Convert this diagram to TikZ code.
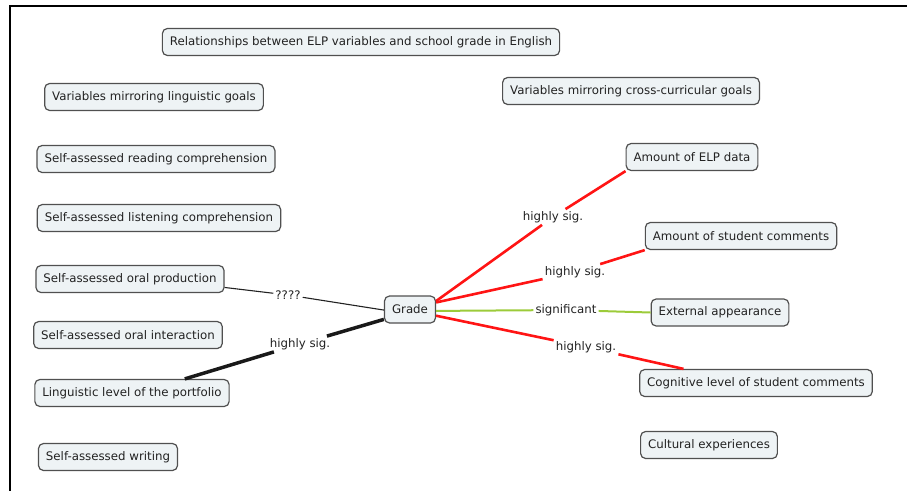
\documentclass[tikz,border=0pt]{standalone}
\usepackage{fontspec}
\setmainfont{DejaVu Sans}
\usetikzlibrary{calc}
\definecolor{boxfill}{HTML}{EEF3F5}
\definecolor{boxline}{HTML}{505050}
\definecolor{txt}{HTML}{222222}
\definecolor{sigred}{HTML}{FF1414}
\definecolor{siggreen}{HTML}{9CCB3A}
\begin{document}
\begin{tikzpicture}[x=1pt,y=-1pt,
  concept/.style={draw=boxline, fill=boxfill, rounded corners=5pt, line width=1.2pt,
    minimum height=27pt, inner xsep=7.5pt, inner ysep=0pt,
    font=\fontsize{11.8}{14}\selectfont, text=txt},
  linklab/.style={inner sep=2pt, font=\fontsize{11.8}{14}\selectfont, text=txt},
  redlink/.style={draw=sigred, line width=2.6pt},
  greenlink/.style={draw=siggreen, line width=2pt},
  thinlink/.style={draw=txt, line width=1.1pt},
  thicklink/.style={draw=black!90, line width=3.5pt}]
\useasboundingbox (0,0) rectangle (907,491);
% frame
\draw[line width=2pt] (907,6) -- (10,6) -- (10,491);
% concepts
\node[concept] (title) at (361,42) {Relationships between ELP variables and school grade in English};
\node[concept] (vling) at (154,97) {Variables mirroring linguistic goals};
\node[concept] (vcross) at (631,91) {Variables mirroring cross-curricular goals};
\node[concept] (read) at (156,159) {Self-assessed reading comprehension};
\node[concept] (listen) at (159,218) {Self-assessed listening comprehension};
\node[concept] (oprod) at (130,279) {Self-assessed oral production};
\node[concept] (oint) at (128,335) {Self-assessed oral interaction};
\node[concept] (lling) at (132,393) {Linguistic level of the portfolio};
\node[concept] (write) at (108,457) {Self-assessed writing};
\node[concept] (grade) at (410,309.5) {Grade};
\node[concept] (elp) at (692,157) {Amount of ELP data};
\node[concept] (scom) at (741,236) {Amount of student comments};
\node[concept] (ext) at (720,312.5) {External appearance};
\node[concept] (cog) at (756,383) {Cognitive level of student comments};
\node[concept] (cult) at (709,445) {Cultural experiences};
% linking phrases
\node[linklab] (l1) at (553,217) {highly sig.};
\node[linklab] (l2) at (575,272) {highly sig.};
\node[linklab] (l3) at (566,310) {significant};
\node[linklab] (l4) at (586,347) {highly sig.};
\node[linklab] (l5) at (288,295) {????};
\node[linklab] (l6) at (300,344) {highly sig.};
% attachment points
\coordinate (g1) at ($(grade.north east)!0.2!(grade.south east)$);
\coordinate (g2) at ($(grade.north east)!0.25!(grade.south east)$);
\coordinate (g3) at ($(grade.north east)!0.55!(grade.south east)$);
\coordinate (g4) at ($(grade.north east)!0.72!(grade.south east)$);
\coordinate (g5) at ($(grade.north west)!0.52!(grade.south west)$);
\coordinate (g6) at ($(grade.north west)!0.85!(grade.south west)$);
\coordinate (cogtop) at ($(cog.north west)!0.19!(cog.north east)$);
\coordinate (oprodr) at ($(oprod.north east)!0.8!(oprod.south east)$);
\coordinate (llingtop) at ($(lling.north west)!0.77!(lling.north east)$);
% connectors
\draw[redlink] (g1) -- (l1) -- (elp.south west);
\draw[redlink] (g2) -- (l2) -- (scom.south west);
\draw[greenlink] (g3) -- (l3) -- (ext.west);
\draw[redlink] (g4) -- (l4) -- (cogtop);
\draw[thinlink] (g5) -- (l5) -- (oprodr);
\draw[thicklink] (g6) -- (l6) -- (llingtop);
\end{tikzpicture}
\end{document}
